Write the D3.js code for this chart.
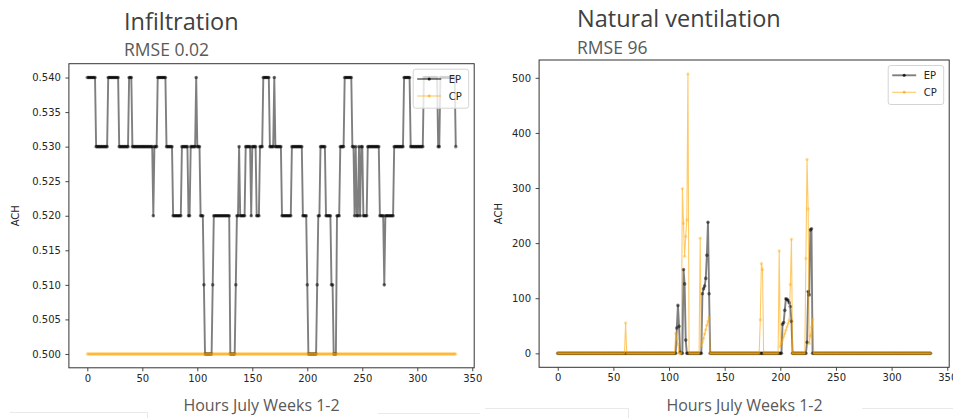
<!DOCTYPE html>
<html>
<head>
<meta charset="utf-8">
<script src="https://cdn.jsdelivr.net/npm/d3@7"></script>
<style>
  body { margin: 0; background: #fff; }
  svg { display: block; }
  .tick text { font-family: "DejaVu Sans", sans-serif; font-size: 10px; fill: #262626; }
</style>
</head>
<body>
<svg id="chart" width="953" height="418"></svg>
<script>
// Hourly air changes per hour (ACH), July weeks 1-2, one row per day (24 h)
const infiltrationEP = [
  0.54,0.54,0.54,0.54,0.54,0.54,0.54,0.54,0.53,0.53,0.53,0.53,0.53,0.53,0.53,0.53,0.53,0.53,0.53,0.54,0.54,0.54,0.54,0.54,
  0.54,0.54,0.54,0.54,0.54,0.53,0.53,0.53,0.53,0.53,0.53,0.53,0.53,0.53,0.54,0.54,0.54,0.53,0.53,0.53,0.53,0.53,0.53,0.53,
  0.53,0.53,0.53,0.53,0.53,0.53,0.53,0.53,0.53,0.53,0.53,0.53,0.52,0.53,0.53,0.53,0.54,0.54,0.54,0.54,0.54,0.54,0.54,0.54,
  0.53,0.53,0.53,0.53,0.53,0.53,0.52,0.52,0.52,0.52,0.52,0.52,0.52,0.52,0.53,0.53,0.53,0.53,0.53,0.53,0.52,0.52,0.53,0.53,
  0.53,0.53,0.53,0.54,0.53,0.53,0.53,0.52,0.52,0.52,0.51,0.50,0.50,0.50,0.50,0.50,0.50,0.50,0.51,0.52,0.52,0.52,0.52,0.52,
  0.52,0.52,0.52,0.52,0.52,0.52,0.52,0.52,0.52,0.52,0.50,0.50,0.50,0.50,0.50,0.51,0.52,0.52,0.53,0.52,0.52,0.52,0.52,0.52,
  0.53,0.53,0.53,0.53,0.53,0.52,0.53,0.53,0.53,0.53,0.52,0.52,0.52,0.53,0.53,0.53,0.54,0.54,0.54,0.54,0.54,0.54,0.53,0.53,
  0.53,0.53,0.54,0.53,0.53,0.53,0.53,0.53,0.53,0.52,0.52,0.52,0.52,0.52,0.52,0.52,0.52,0.52,0.53,0.53,0.53,0.53,0.53,0.53,
  0.53,0.53,0.53,0.53,0.52,0.52,0.52,0.52,0.51,0.50,0.50,0.50,0.50,0.50,0.50,0.50,0.50,0.51,0.52,0.52,0.53,0.53,0.53,0.53,
  0.53,0.52,0.52,0.52,0.52,0.52,0.51,0.51,0.50,0.50,0.50,0.52,0.52,0.52,0.53,0.53,0.53,0.53,0.54,0.54,0.54,0.54,0.54,0.54,
  0.54,0.53,0.53,0.52,0.53,0.52,0.52,0.53,0.52,0.53,0.53,0.52,0.52,0.52,0.52,0.53,0.53,0.53,0.53,0.53,0.53,0.53,0.53,0.53,
  0.53,0.53,0.52,0.52,0.52,0.52,0.51,0.52,0.52,0.52,0.52,0.52,0.52,0.52,0.52,0.53,0.53,0.53,0.53,0.53,0.53,0.53,0.53,0.53,
  0.54,0.54,0.54,0.54,0.54,0.54,0.53,0.53,0.53,0.53,0.53,0.53,0.53,0.53,0.53,0.53,0.53,0.53,0.54,0.54,0.54,0.54,0.54,0.54,
  0.54,0.54,0.54,0.54,0.54,0.54,0.54,0.53,0.53,0.54,0.54,0.54,0.54,0.54,0.54,0.54,0.54,0.54,0.54,0.54,0.54,0.54,0.54,0.53
];
const infiltrationCP = [
  0.5,0.5,0.5,0.5,0.5,0.5,0.5,0.5,0.5,0.5,0.5,0.5,0.5,0.5,0.5,0.5,0.5,0.5,0.5,0.5,0.5,0.5,0.5,0.5,
  0.5,0.5,0.5,0.5,0.5,0.5,0.5,0.5,0.5,0.5,0.5,0.5,0.5,0.5,0.5,0.5,0.5,0.5,0.5,0.5,0.5,0.5,0.5,0.5,
  0.5,0.5,0.5,0.5,0.5,0.5,0.5,0.5,0.5,0.5,0.5,0.5,0.5,0.5,0.5,0.5,0.5,0.5,0.5,0.5,0.5,0.5,0.5,0.5,
  0.5,0.5,0.5,0.5,0.5,0.5,0.5,0.5,0.5,0.5,0.5,0.5,0.5,0.5,0.5,0.5,0.5,0.5,0.5,0.5,0.5,0.5,0.5,0.5,
  0.5,0.5,0.5,0.5,0.5,0.5,0.5,0.5,0.5,0.5,0.5,0.5,0.5,0.5,0.5,0.5,0.5,0.5,0.5,0.5,0.5,0.5,0.5,0.5,
  0.5,0.5,0.5,0.5,0.5,0.5,0.5,0.5,0.5,0.5,0.5,0.5,0.5,0.5,0.5,0.5,0.5,0.5,0.5,0.5,0.5,0.5,0.5,0.5,
  0.5,0.5,0.5,0.5,0.5,0.5,0.5,0.5,0.5,0.5,0.5,0.5,0.5,0.5,0.5,0.5,0.5,0.5,0.5,0.5,0.5,0.5,0.5,0.5,
  0.5,0.5,0.5,0.5,0.5,0.5,0.5,0.5,0.5,0.5,0.5,0.5,0.5,0.5,0.5,0.5,0.5,0.5,0.5,0.5,0.5,0.5,0.5,0.5,
  0.5,0.5,0.5,0.5,0.5,0.5,0.5,0.5,0.5,0.5,0.5,0.5,0.5,0.5,0.5,0.5,0.5,0.5,0.5,0.5,0.5,0.5,0.5,0.5,
  0.5,0.5,0.5,0.5,0.5,0.5,0.5,0.5,0.5,0.5,0.5,0.5,0.5,0.5,0.5,0.5,0.5,0.5,0.5,0.5,0.5,0.5,0.5,0.5,
  0.5,0.5,0.5,0.5,0.5,0.5,0.5,0.5,0.5,0.5,0.5,0.5,0.5,0.5,0.5,0.5,0.5,0.5,0.5,0.5,0.5,0.5,0.5,0.5,
  0.5,0.5,0.5,0.5,0.5,0.5,0.5,0.5,0.5,0.5,0.5,0.5,0.5,0.5,0.5,0.5,0.5,0.5,0.5,0.5,0.5,0.5,0.5,0.5,
  0.5,0.5,0.5,0.5,0.5,0.5,0.5,0.5,0.5,0.5,0.5,0.5,0.5,0.5,0.5,0.5,0.5,0.5,0.5,0.5,0.5,0.5,0.5,0.5,
  0.5,0.5,0.5,0.5,0.5,0.5,0.5,0.5,0.5,0.5,0.5,0.5,0.5,0.5,0.5,0.5,0.5,0.5,0.5,0.5,0.5,0.5,0.5,0.5
];
const ventilationEP = [
  0,0,0,0,0,0,0,0,0,0,0,0,0,0,0,0,0,0,0,0,0,0,0,0,
  0,0,0,0,0,0,0,0,0,0,0,0,0,0,0,0,0,0,0,0,0,0,0,0,
  0,0,0,0,0,0,0,0,0,0,0,0,0,0,0,0,0,0,0,0,0,0,0,0,
  0,0,0,0,0,0,0,0,0,0,0,0,0,0,0,0,0,0,0,0,0,0,0,0,
  0,0,0,0,0,0,0,0,0,0,0,46,87,49,2,0,0,152,126,24,0,0,0,0,
  0,0,0,0,0,0,0,0,0,0,108,117,122,136,178,238,108,0,0,0,0,0,0,0,
  0,0,0,0,0,0,0,0,0,0,0,0,0,0,0,0,0,0,0,0,0,0,0,0,
  0,0,0,0,0,0,0,0,0,0,0,0,0,0,0,0,0,0,0,0,0,0,0,0,
  0,0,0,0,0,0,0,0,0,0,53,56,78,99,98,96,92,85,58,0,0,0,0,0,
  0,0,0,0,0,0,0,0,20,112,106,224,226,0,0,0,0,0,0,0,0,0,0,0,
  0,0,0,0,0,0,0,0,0,0,0,0,0,0,0,0,0,0,0,0,0,0,0,0,
  0,0,0,0,0,0,0,0,0,0,0,0,0,0,0,0,0,0,0,0,0,0,0,0,
  0,0,0,0,0,0,0,0,0,0,0,0,0,0,0,0,0,0,0,0,0,0,0,0,
  0,0,0,0,0,0,0,0,0,0,0,0,0,0,0,0,0,0,0,0,0,0,0,0
];
const ventilationCP = [
  0,0,0,0,0,0,0,0,0,0,0,0,0,0,0,0,0,0,0,0,0,0,0,0,
  0,0,0,0,0,0,0,0,0,0,0,0,0,0,0,0,0,0,0,0,0,0,0,0,
  0,0,0,0,0,0,0,0,0,0,0,0,0,55,0,0,0,0,0,0,0,0,0,0,
  0,0,0,0,0,0,0,0,0,0,0,0,0,0,0,0,0,0,0,0,0,0,0,0,
  0,0,0,0,0,0,0,0,0,0,36,26,16,0,0,0,299,236,176,212,242,507,0,0,
  0,0,0,0,0,0,0,0,209,12,20,27,35,43,51,58,65,0,0,0,0,0,0,0,
  0,0,0,0,0,0,0,0,0,0,0,0,0,0,0,0,0,0,0,0,0,0,0,0,
  0,0,0,0,0,0,0,0,0,0,0,0,0,0,61,163,152,0,0,0,0,0,0,0,
  0,0,0,0,0,0,0,186,12,18,24,30,36,42,48,54,60,125,207,0,0,0,0,0,
  0,0,0,0,0,0,0,172,352,262,18,32,48,62,0,0,0,0,0,0,0,0,0,0,
  0,0,0,0,0,0,0,0,0,0,0,0,0,0,0,0,0,0,0,0,0,0,0,0,
  0,0,0,0,0,0,0,0,0,0,0,0,0,0,0,0,0,0,0,0,0,0,0,0,
  0,0,0,0,0,0,0,0,0,0,0,0,0,0,0,0,0,0,0,0,0,0,0,0,
  0,0,0,0,0,0,0,0,0,0,0,0,0,0,0,0,0,0,0,0,0,0,0,0
];

const hourTicks = [0, 50, 100, 150, 200, 250, 300, 350];
const infiltrationTicks = [0.500, 0.505, 0.510, 0.515, 0.520, 0.525, 0.530, 0.535, 0.540];
const ventilationTicks = [0, 100, 200, 300, 400, 500];
const seriesNames = ["EP", "CP"];
const panelTitles = ["Infiltration", "Natural ventilation"];
const panelSubtitles = ["RMSE 0.02", "RMSE 96"];
const xAxisLabel = "Hours July Weeks 1-2";
const yAxisLabel = "ACH";

const svg = d3.select("#chart");

// faint slide-box edges along the bottom
const edges = svg.append("g").attr("stroke", "#e9e9e9").attr("stroke-width", 1).attr("fill", "none");
edges.append("path").attr("d", "M10,412.5H147.5V418");
edges.append("path").attr("d", "M378,413.5H480");
edges.append("path").attr("d", "M485,408.5H628.5V418");
edges.append("path").attr("d", "M862,408.5H953");

// marker/line styles for the two series
const seriesStyle = [
  { color: "#000", lineOpacity: 0.5, lineWidth: 1.9, r: 1.8, dotOpacity: 0.5 },
  { color: "#ffa500", lineOpacity: 0.6, lineWidth: 1.1, r: 1.7, dotOpacity: 0.35 }
];

function drawPanel(p) {
  const g = svg.append("g");
  const n = p.ep.length;
  // matplotlib-style 5% margins
  const xPad = (n - 1) * 0.05;
  const x = d3.scaleLinear().domain([-xPad, (n - 1) + xPad]).range([p.left, p.right]);
  const all = p.ep.concat(p.cp);
  const [lo, hi] = d3.extent(all);
  const yPad = (hi - lo) * 0.05;
  const y = d3.scaleLinear().domain([lo - yPad, hi + yPad]).range([p.bottom, p.top]);

  // axes
  const xAxis = g.append("g").attr("transform", `translate(0,${p.bottom})`)
    .call(d3.axisBottom(x).tickValues(hourTicks).tickSize(3.5).tickPadding(3.5).tickFormat(d3.format("d")));
  const yAxis = g.append("g").attr("transform", `translate(${p.left},0)`)
    .call(d3.axisLeft(y).tickValues(p.ticks).tickSize(3.5).tickPadding(4.5).tickFormat(p.fmt));
  [xAxis, yAxis].forEach(a => {
    a.select(".domain").remove();
    a.selectAll(".tick line").attr("stroke", "#333").attr("stroke-width", 0.9);
  });

  const line = d3.line().x((d, i) => x(i)).y(d => y(d));
  [p.ep, p.cp].forEach((values, k) => {
    const s = seriesStyle[k];
    g.append("path").datum(values).attr("d", line)
      .attr("fill", "none").attr("stroke", s.color).attr("stroke-opacity", s.lineOpacity)
      .attr("stroke-width", s.lineWidth).attr("stroke-linejoin", "round");
    g.append("g").selectAll("circle").data(values).join("circle")
      .attr("cx", (d, i) => x(i)).attr("cy", d => y(d)).attr("r", s.r)
      .attr("fill", s.color).attr("fill-opacity", s.dotOpacity);
  });

  // frame
  g.append("rect").attr("x", p.left).attr("y", p.top)
    .attr("width", p.right - p.left).attr("height", p.bottom - p.top)
    .attr("fill", "none").attr("stroke", "#333").attr("stroke-width", 1);

  // legend (upper right)
  const lw = 55.5, lh = 39;
  const lx = p.right - 5.5 - lw, ly = p.top + 5.5;
  const lg = g.append("g");
  lg.append("rect").attr("x", lx).attr("y", ly).attr("width", lw).attr("height", lh)
    .attr("rx", 2.5).attr("fill", "#fff").attr("fill-opacity", 0.8)
    .attr("stroke", "#d4d4d4").attr("stroke-width", 1);
  seriesNames.forEach((name, i) => {
    const s = seriesStyle[i];
    const yy = ly + 9.8 + i * 17;
    lg.append("line").attr("x1", lx + 4).attr("x2", lx + 28).attr("y1", yy).attr("y2", yy)
      .attr("stroke", s.color).attr("stroke-opacity", s.lineOpacity).attr("stroke-width", s.lineWidth);
    lg.append("circle").attr("cx", lx + 16).attr("cy", yy).attr("r", s.r * 0.85)
      .attr("fill", s.color).attr("fill-opacity", s.dotOpacity + 0.3);
    lg.append("text").attr("x", lx + 35.5).attr("y", yy).attr("dy", "0.36em")
      .attr("font-family", "DejaVu Sans, sans-serif").attr("font-size", 10).attr("fill", "#262626")
      .text(name);
  });

  // y label
  svg.append("text")
    .attr("transform", `translate(${p.yLabelX},${(p.top + p.bottom) / 2}) rotate(-90)`)
    .attr("text-anchor", "middle").attr("dy", "0.36em")
    .attr("font-family", "DejaVu Sans, sans-serif").attr("font-size", 10).attr("fill", "#262626")
    .text(yAxisLabel);

  // titles
  svg.append("text").attr("x", p.titleX).attr("y", p.titleY)
    .attr("font-family", "Open Sans, sans-serif").attr("font-size", 23.5).attr("fill", "#404040")
    .text(p.title);
  svg.append("text").attr("x", p.titleX).attr("y", p.titleY + 26.5)
    .attr("font-family", "Open Sans, sans-serif").attr("font-size", 17.5).attr("fill", "#595959")
    .text(p.subtitle);

  // x label
  svg.append("text").attr("x", p.xLabelX).attr("y", 411)
    .attr("text-anchor", "middle")
    .attr("font-family", "Open Sans, sans-serif").attr("font-size", 16).attr("fill", "#595959")
    .text(xAxisLabel);
}

drawPanel({
  ep: infiltrationEP, cp: infiltrationCP, ticks: infiltrationTicks, fmt: d3.format(".3f"),
  left: 68.9, right: 474.2, top: 63.7, bottom: 367.8,
  title: panelTitles[0], subtitle: panelSubtitles[0], titleX: 124, titleY: 29.5,
  xLabelX: 261.5, yLabelX: 15
});
drawPanel({
  ep: ventilationEP, cp: ventilationCP, ticks: ventilationTicks, fmt: d3.format("d"),
  left: 539.1, right: 949.2, top: 60, bottom: 367.3,
  title: panelTitles[1], subtitle: panelSubtitles[1], titleX: 577, titleY: 27,
  xLabelX: 744.5, yLabelX: 498
});
</script>
</body>
</html>
